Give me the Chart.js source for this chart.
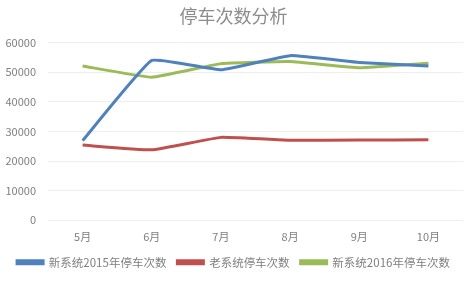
<!DOCTYPE html>
<html>
<head>
<meta charset="utf-8">
<script src="https://cdn.jsdelivr.net/npm/chart.js@4/dist/chart.umd.min.js"></script>
<style>
html,body{margin:0;padding:0;background:#fff;}
#wrap{width:476px;height:283px;position:relative;}
</style>
</head>
<body>
<div id="wrap"><canvas id="c" width="476" height="283"></canvas></div>
<script>
const categories = ['5月','6月','7月','8月','9月','10月'];
const seriesNames = ['新系统2015年停车次数','老系统停车次数','新系统2016年停车次数'];
const new2015 = [26900, 54000, 50800, 55600, 53300, 52100];
const oldSys  = [25400, 23800, 28000, 27000, 27100, 27200];
const new2016 = [52100, 48300, 52900, 53600, 51500, 53000];
const yTicks = [0, 10000, 20000, 30000, 40000, 50000, 60000];
const colors = ['#4F81BD', '#C0504D', '#9BBB59'];

const FONT = '"Noto Sans CJK SC", "Noto Sans", sans-serif';
const data = {
  labels: categories,
  datasets: [new2015, oldSys, new2016].map((vals, i) => ({
    label: seriesNames[i],
    data: vals,
    borderColor: colors[i],
    backgroundColor: colors[i],
    borderWidth: 3,
    pointRadius: 0,
    tension: 0.1,
    fill: false
  }))
};

new Chart(document.getElementById('c'), {
  type: 'line',
  data: data,
  options: {
    responsive: false,
    animation: false,
    devicePixelRatio: 1,
    layout: { padding: { left: 4, right: 13, top: 2, bottom: 5 } },
    plugins: {
      title: {
        display: true,
        text: '停车次数分析',
        color: '#8c8c8c',
        font: { family: FONT, size: 18, weight: 'normal' },
        padding: { top: 3, bottom: 16 }
      },
      legend: {
        position: 'bottom',
        labels: {
          color: '#7f7f7f',
          font: { family: FONT, size: 11.5 },
          boxWidth: 26,
          boxHeight: 3,
          padding: 11
        }
      },
      tooltip: { enabled: false }
    },
    scales: {
      x: {
        offset: true,
        grid: { display: false },
        border: { display: false },
        ticks: { color: '#7f7f7f', font: { family: FONT, size: 11 }, padding: 2 }
      },
      y: {
        min: 0,
        max: 60000,
        afterBuildTicks: (axis) => { axis.ticks = yTicks.map(v => ({ value: v })); },
        afterFit: (axis) => { axis.width = 44; },
        grid: { color: '#eeeeee', drawTicks: false },
        border: { display: false },
        ticks: { color: '#7f7f7f', font: { family: FONT, size: 11 }, padding: 12,
                 callback: (v) => String(v) }
      }
    }
  }
});
</script>
</body>
</html>
